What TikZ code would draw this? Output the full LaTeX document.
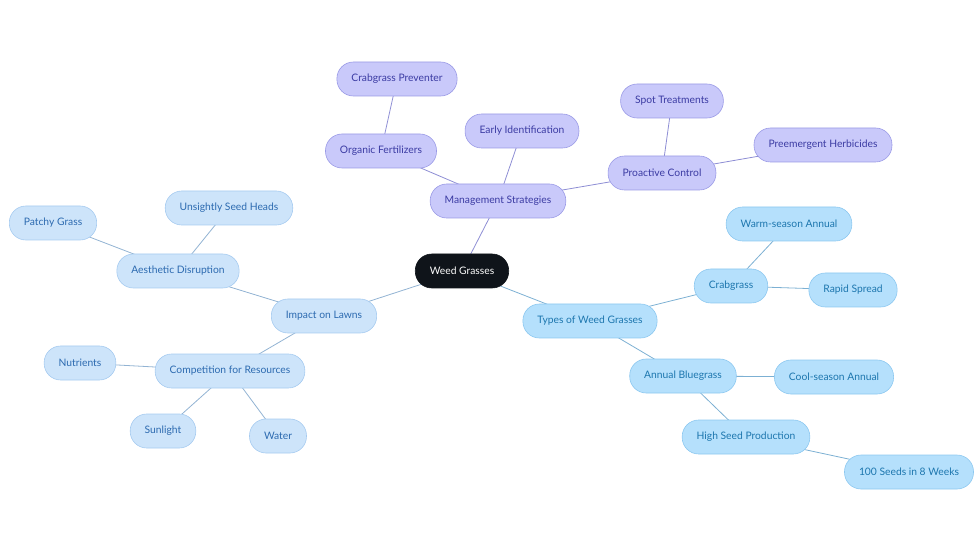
\documentclass[tikz,border=0pt]{standalone}
\usepackage{fontspec}
\setmainfont{Lato}
\usetikzlibrary{backgrounds}

\definecolor{rootfill}{HTML}{0F141A}
\definecolor{mgfill}{HTML}{C9C9FA}
\definecolor{mgline}{HTML}{9A9AE6}
\definecolor{mgtext}{HTML}{3B3BA3}
\definecolor{imfill}{HTML}{CDE4FA}
\definecolor{imline}{HTML}{A6CBF0}
\definecolor{imtext}{HTML}{2C6AB0}
\definecolor{tyfill}{HTML}{B5E0FC}
\definecolor{tyline}{HTML}{8DC8F0}
\definecolor{tytext}{HTML}{1C76AE}

\tikzset{
  topic/.style={rounded corners=16.5pt, minimum height=34pt, inner xsep=14.5pt,
    font=\fontsize{10.3}{12}\selectfont, line width=0.6pt},
  root/.style={topic, fill=rootfill, draw=rootfill, text=white},
  mgmt/.style={topic, fill=mgfill, draw=mgline, text=mgtext},
  impact/.style={topic, fill=imfill, draw=imline, text=imtext},
  types/.style={topic, fill=tyfill, draw=tyline, text=tytext},
  mglink/.style={draw=mgline!92!black, line width=0.8pt},
  imlink/.style={draw=imline!88!black, line width=0.8pt},
  tylink/.style={draw=tyline!88!black, line width=0.8pt}
}

\begin{document}
\begin{tikzpicture}[x=1pt,y=-1pt]
      \useasboundingbox (0,0) rectangle (980,553);

      % Root
      \node[root] (weed) at (462,271) {Weed Grasses};

      % Management branch
      \node[mgmt] (manage) at (498,201) {Management Strategies};
      \node[mgmt] (organic) at (381,151) {Organic Fertilizers};
      \node[mgmt] (prevent) at (397,79) {Crabgrass Preventer};
      \node[mgmt] (early) at (522,131) {Early Identification};
      \node[mgmt] (proactive) at (662,173) {Proactive Control};
      \node[mgmt] (spot) at (672,101) {Spot Treatments};
      \node[mgmt] (preemerg) at (823,145) {Preemergent Herbicides};

      % Impact branch
      \node[impact] (impact) at (324,316) {Impact on Lawns};
      \node[impact] (aesthetic) at (178,271) {Aesthetic Disruption};
      \node[impact] (patchy) at (53,223) {Patchy Grass};
      \node[impact] (seedheads) at (229,208) {Unsightly Seed Heads};
      \node[impact] (compete) at (230,371) {Competition for Resources};
      \node[impact] (nutrients) at (80,363) {Nutrients};
      \node[impact] (sunlight) at (163,431) {Sunlight};
      \node[impact] (water) at (278,436) {Water};

      % Types branch
      \node[types] (types) at (590,321) {Types of Weed Grasses};
      \node[types] (crab) at (731,286) {Crabgrass};
      \node[types] (warm) at (789,224) {Warm-season Annual};
      \node[types] (rapid) at (853,290) {Rapid Spread};
      \node[types] (bluegrass) at (683,376) {Annual Bluegrass};
      \node[types] (cool) at (834,377) {Cool-season Annual};
      \node[types] (highseed) at (746,437) {High Seed Production};
      \node[types] (hundred) at (909,472) {100 Seeds in 8 Weeks};

      % Connections
      \begin{scope}[on background layer]
        \draw[mglink] (weed.center) -- (manage.center);
        \foreach \n in {organic,early,proactive}
          \draw[mglink] (manage.center) -- (\n.center);
        \draw[mglink] (organic.center) -- (prevent.center);
        \foreach \n in {spot,preemerg}
          \draw[mglink] (proactive.center) -- (\n.center);

        \draw[imlink] (weed.center) -- (impact.center);
        \foreach \n in {aesthetic,compete}
          \draw[imlink] (impact.center) -- (\n.center);
        \foreach \n in {patchy,seedheads}
          \draw[imlink] (aesthetic.center) -- (\n.center);
        \foreach \n in {nutrients,sunlight,water}
          \draw[imlink] (compete.center) -- (\n.center);

        \draw[tylink] (weed.center) -- (types.center);
        \foreach \n in {crab,bluegrass}
          \draw[tylink] (types.center) -- (\n.center);
        \foreach \n in {warm,rapid}
          \draw[tylink] (crab.center) -- (\n.center);
        \foreach \n in {cool,highseed}
          \draw[tylink] (bluegrass.center) -- (\n.center);
        \draw[tylink] (highseed.center) -- (hundred.center);
      \end{scope}
\end{tikzpicture}
\end{document}
